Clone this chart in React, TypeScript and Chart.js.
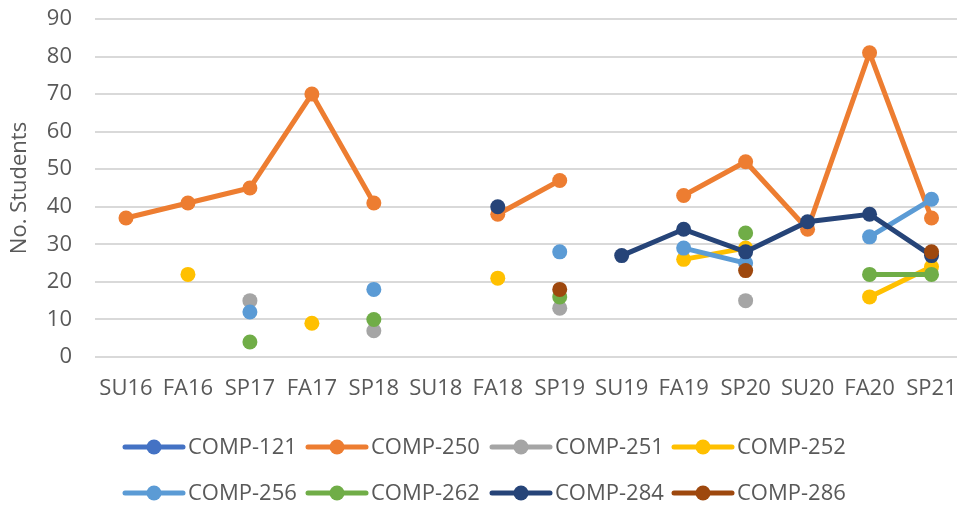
import React, { useEffect, useRef } from 'react';
import { Chart, registerables } from 'chart.js';

Chart.register(...registerables);

const terms = ['SU16', 'FA16', 'SP17', 'FA17', 'SP18', 'SU18', 'FA18', 'SP19', 'SU19', 'FA19', 'SP20', 'SU20', 'FA20', 'SP21'];

const comp121: (number | null)[] = [null, null, null, null, null, null, null, null, null, null, null, null, null, null];
const comp250: (number | null)[] = [37, 41, 45, 70, 41, null, 38, 47, null, 43, 52, 34, 81, 37];
const comp251: (number | null)[] = [null, null, 15, null, 7, null, null, 13, null, null, 15, null, null, null];
const comp252: (number | null)[] = [null, 22, null, 9, null, null, 21, null, null, 26, 29, null, 16, 24];
const comp256: (number | null)[] = [null, null, 12, null, 18, null, null, 28, null, 29, 25, null, 32, 42];
const comp262: (number | null)[] = [null, null, 4, null, 10, null, null, 16, null, null, 33, null, 22, 22];
const comp284: (number | null)[] = [null, null, null, null, null, null, 40, null, 27, 34, 28, 36, 38, 27];
const comp286: (number | null)[] = [null, null, null, null, null, null, null, 18, null, null, 23, null, null, 28];

const seriesNames = ['COMP-121', 'COMP-250', 'COMP-251', 'COMP-252', 'COMP-256', 'COMP-262', 'COMP-284', 'COMP-286'];
const seriesData = [comp121, comp250, comp251, comp252, comp256, comp262, comp284, comp286];
const seriesColors = ['#4472C4', '#ED7D31', '#A5A5A5', '#FFC000', '#5B9BD5', '#70AD47', '#264478', '#9E480E'];

const yMin = 0;
const yMax = 90;
const yStep = 10;
const yTitle = 'No. Students';

const FONT = '"Open Sans", "Noto Sans", sans-serif';
const TEXT_COLOR = '#595959';

const LEGEND_X = [123, 306, 490, 672];
const LEGEND_Y = [447, 493];

const legendPlugin = {
  id: 'excelLegend',
  afterDraw(chart: any) {
    const ctx = chart.ctx;
    const ds = chart.data.datasets;
    ctx.save();
    ds.forEach((d: any, i: number) => {
      const col = i % 4;
      const row = Math.floor(i / 4);
      const x0 = LEGEND_X[col];
      const y = LEGEND_Y[row];
      ctx.strokeStyle = d.borderColor;
      ctx.lineWidth = 5;
      ctx.lineCap = 'round';
      ctx.beginPath();
      ctx.moveTo(x0 + 2, y);
      ctx.lineTo(x0 + 60, y);
      ctx.stroke();
      ctx.fillStyle = d.borderColor;
      ctx.beginPath();
      ctx.arc(x0 + 31, y, 7.5, 0, Math.PI * 2);
      ctx.fill();
      ctx.fillStyle = TEXT_COLOR;
      ctx.font = '22px ' + FONT;
      ctx.textBaseline = 'middle';
      ctx.textAlign = 'left';
      ctx.fillText(d.label, x0 + 65, y + 1);
    });
    ctx.restore();
  },
};

export default function App() {
  const canvasRef = useRef<HTMLCanvasElement | null>(null);

  useEffect(() => {
    document.body.style.overflow = 'hidden';
    const canvas = canvasRef.current;
    if (!canvas) return;
    const datasets = seriesNames.map((name, i) => ({
      label: name,
      data: seriesData[i],
      borderColor: seriesColors[i],
      backgroundColor: seriesColors[i],
      pointBackgroundColor: seriesColors[i],
      pointBorderColor: seriesColors[i],
      pointBorderWidth: 0,
      pointRadius: 7.5,
      borderWidth: 5,
      spanGaps: false,
      tension: 0,
      order: -i,
    }));
    const chart = new Chart(canvas, {
      type: 'line',
      data: { labels: terms, datasets },
      options: {
        responsive: false,
        animation: false,
        maintainAspectRatio: false,
        layout: { padding: { left: 0, right: 6, top: 19, bottom: 106 } },
        plugins: {
          legend: { display: false },
          tooltip: { enabled: false },
        },
        scales: {
          x: {
            offset: true,
            grid: { display: false, drawTicks: false },
            border: { display: false },
            ticks: {
              color: TEXT_COLOR,
              font: { family: FONT, size: 22 },
              padding: 19,
              maxRotation: 0,
              autoSkip: false,
            },
            afterFit(scale: any) {
              scale.height = 45;
              scale.paddingLeft = 0;
              scale.paddingRight = 0;
            },
          },
          y: {
            min: yMin,
            max: yMax,
            grid: { color: '#d9d9d9', lineWidth: 2, drawTicks: false },
            border: { display: false },
            ticks: {
              stepSize: yStep,
              color: TEXT_COLOR,
              font: { family: FONT, size: 22 },
              padding: 23,
            },
            title: {
              display: true,
              text: yTitle,
              color: TEXT_COLOR,
              font: { family: FONT, size: 22 },
              padding: { top: 7, bottom: 0 },
            },
            afterFit(scale: any) {
              scale.width = 95;
              scale.paddingTop = 0;
              scale.paddingBottom = 0;
            },
          },
        },
      },
      plugins: [legendPlugin],
    });
    return () => chart.destroy();
  }, []);

  return (
    <div style={{ position: 'fixed', left: 0, top: 0, width: 957, height: 508, overflow: 'hidden', background: '#fff' }}>
      <canvas ref={canvasRef} width={970} height={508} style={{ width: 970, height: 508, display: 'block' }} />
    </div>
  );
}
